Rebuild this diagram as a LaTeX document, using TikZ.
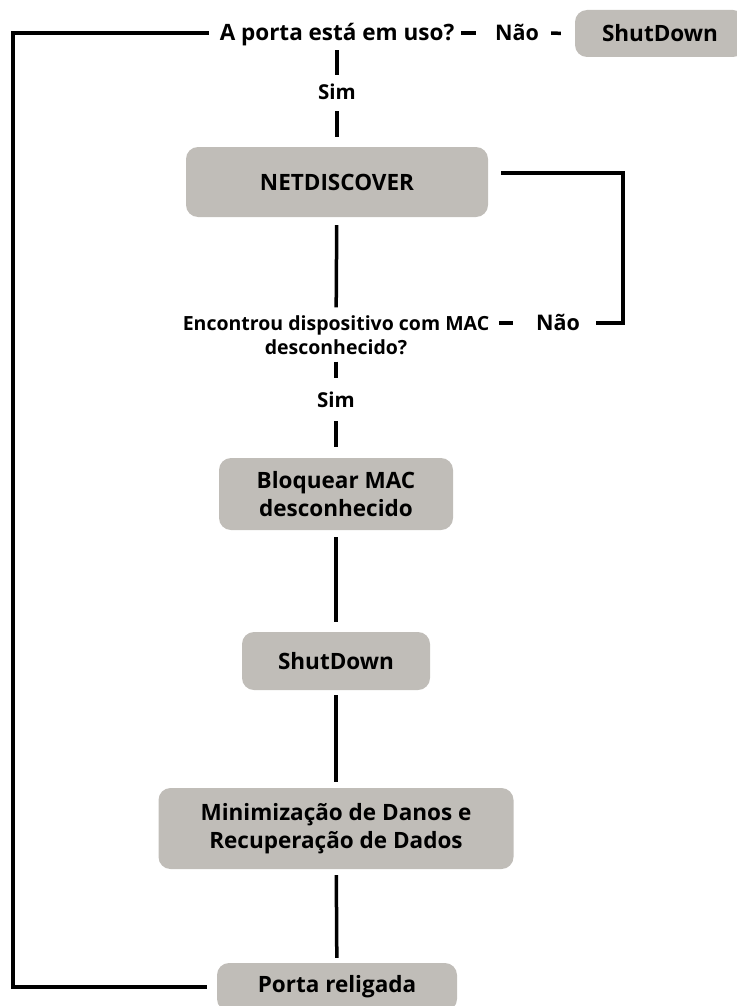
\documentclass[tikz,border=0pt]{standalone}
\usepackage{fontspec}
\setmainfont{Open Sans}
\usepackage{tikz}

\definecolor{boxgray}{RGB}{192,189,184}

\begin{document}
\begin{tikzpicture}[x=1pt,y=-1pt]
  \useasboundingbox (0,0) rectangle (736,1006);

  % Define styles for the boxes, the labels and the lines
  \tikzset{
    procbox/.style={fill=boxgray, rounded corners=12pt, inner sep=0pt, align=center,
      font=\bfseries\fontsize{22.5}{28}\selectfont},
    question/.style={inner sep=0pt, inner xsep=1pt, align=center,
      font=\bfseries\fontsize{19.5}{24}\selectfont},
    answer/.style={inner sep=0pt, inner xsep=1pt, text height=14.5pt, text depth=0pt,
      font=\bfseries\fontsize{20.5}{24}\selectfont},
    link/.style={line width=3.5pt, shorten <=8pt, shorten >=8pt}
  }

  % First question and the shutdown on the right
  \node[question, text height=16pt, text depth=0pt, font=\bfseries\fontsize{22.5}{26}\selectfont]
    (q1) at (337,33) {A porta está em uso?};
  \node[answer, font=\bfseries\fontsize{21.5}{24}\selectfont] (nao1) at (517,33) {Não};
  \node[procbox, minimum width=170pt, minimum height=47pt] (sd1) at (660,33.5) {ShutDown};
  \node[answer] (sim1) at (337,92) {Sim};

  % Main column
  \node[procbox, minimum width=302pt, minimum height=70pt] (netd) at (337,182) {NETDISCOVER};
  \node[question] (q2) at (336,335) {Encontrou dispositivo com MAC\\desconhecido?};
  \node[answer, font=\bfseries\fontsize{21.5}{24}\selectfont] (nao2) at (558,323) {Não};
  \node[answer] (sim2) at (336,400) {Sim};
  \node[procbox, minimum width=234pt, minimum height=72pt] (block) at (336,494) {Bloquear MAC\\desconhecido};
  \node[procbox, minimum width=188pt, minimum height=58pt] (sd2) at (336,661) {ShutDown};
  \node[procbox, minimum width=355pt, minimum height=81pt] (mini) at (336,828.5) {Minimização de Danos e\\Recuperação de Dados};
  \node[procbox, minimum width=240pt, minimum height=48pt] (porta) at (337,987) {Porta religada};

  % Helper coordinates for the two loops
  \coordinate (back) at (13,0);
  \coordinate (rback) at (623,0);

  % Draw lines connecting the nodes
  \draw[link, shorten <=6pt, shorten >=18pt] (q1.east) -- (nao1.west);
  \draw[link, shorten <=11pt, shorten >=14pt] (nao1.east) -- (sd1.west);
  \draw[link, shorten <=9pt, shorten >=10pt] (q1) -- (sim1);
  \draw[link, shorten <=12pt, shorten >=10pt] (sim1) -- (netd);
  \draw[link] (netd) -- (q2);
  \draw[link, shorten <=7pt, shorten >=15pt] (q2) -- (sim2);
  \draw[link, shorten <=14pt, shorten >=11pt] (sim2) -- (block);
  \draw[link, shorten <=7pt, shorten >=10pt] (block) -- (sd2);
  \draw[link, shorten <=5pt, shorten >=6pt] (sd2) -- (mini);
  \draw[link, shorten <=6pt, shorten >=5pt] (mini) -- (porta);
  \draw[link, shorten <=22pt, shorten >=9pt] (nao2.west) -- (nao2.west -| q2.east);
  \draw[link, shorten <=13pt, shorten >=15pt]
    ([yshift=9pt]netd.east) -- ([yshift=9pt]netd.east -| rback) |- (nao2.east);
  \draw[link, shorten <=10pt, shorten >=10pt]
    (q1.west) -- (q1.west -| back) -- (porta.west -| back) -- (porta.west);

\end{tikzpicture}
\end{document}
